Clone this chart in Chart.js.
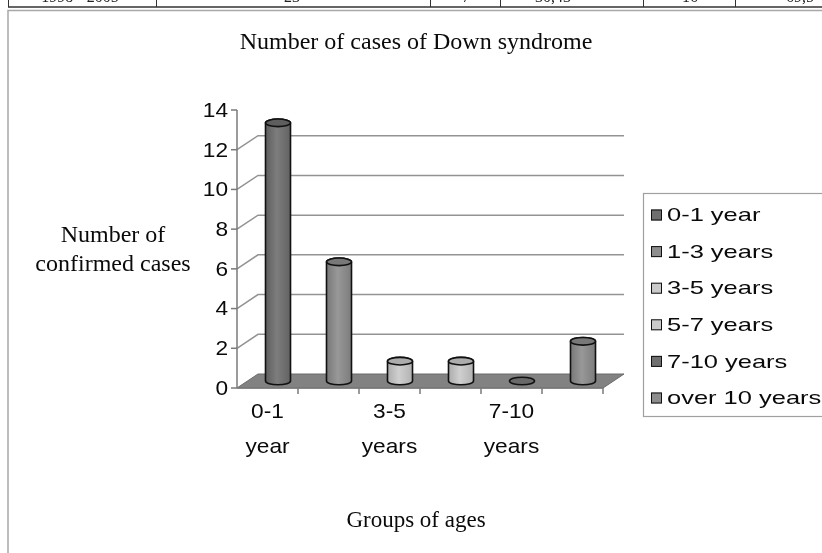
<!DOCTYPE html>
<html>
<head>
<meta charset="utf-8">
<script src="https://cdn.jsdelivr.net/npm/chart.js@4/dist/chart.umd.min.js"></script>
<style>
  html, body { margin: 0; padding: 0; background: #ffffff; }
  #wrap { width: 822px; height: 553px; position: relative; }
</style>
</head>
<body>
<div id="wrap"><canvas id="c" width="822" height="553"></canvas></div>
<script>
// ---- data ----
const categories = ["0-1 year", "1-3 years", "3-5 years", "5-7 years", "7-10 years", "over 10 years"];
const cases = [13, 6, 1, 1, 0, 2];
const yTicks = [0, 2, 4, 6, 8, 10, 12, 14];
const yGridValues = [2, 4, 6, 8, 10, 12];
const xTickLabels = [["0-1", "year"], null, ["3-5", "years"], null, ["7-10", "years"], null];
const chartTitle = "Number of cases of Down syndrome";
const yTitle = ["Number of", "confirmed cases"];
const xTitle = "Groups of ages";
const tableRow = ["1998 - 2005", "23", "7", "30,43", "16", "69,5"];

// ---- styles ----
const barColors = ["#6f6f6f", "#8d8d8d", "#cacaca", "#cacaca", "#6f6f6f", "#8d8d8d"];
const DX = 21, DY = 14;
const SANS = '"Liberation Sans", Arial, sans-serif';
const SERIF = '"Liberation Serif", "Times New Roman", serif';

function shade(hex, f) {
  const n = parseInt(hex.slice(1), 16);
  let r = (n >> 16) & 255, g = (n >> 8) & 255, b = n & 255;
  const t = f < 0 ? 0 : 255, p = Math.abs(f);
  r = Math.round((t - r) * p + r); g = Math.round((t - g) * p + g); b = Math.round((t - b) * p + b);
  return `rgb(${r},${g},${b})`;
}

function text(ctx, s, x, y, font, sx, align, baseline, color) {
  ctx.save();
  ctx.font = font;
  ctx.textBaseline = baseline || 'alphabetic';
  ctx.textAlign = 'left';
  ctx.fillStyle = color || '#111';
  const w = ctx.measureText(s).width * sx;
  let left = x;
  if (align === 'center') left = x - w / 2;
  else if (align === 'right') left = x - w;
  ctx.translate(left, y);
  ctx.scale(sx, 1);
  ctx.fillText(s, 0, 0);
  ctx.restore();
}

function cylinder(ctx, cx, yTop, yBot, w, color) {
  const rx = w / 2, ry = 3.8;
  ctx.save();
  ctx.lineWidth = 1.6;
  ctx.strokeStyle = '#111';
  if (yBot - yTop < 1) {
    ctx.beginPath();
    ctx.ellipse(cx, yBot, rx, ry, 0, 0, Math.PI * 2);
    ctx.fillStyle = shade(color, -0.05);
    ctx.fill(); ctx.stroke();
    ctx.restore();
    return;
  }
  const g = ctx.createLinearGradient(cx - rx, 0, cx + rx, 0);
  g.addColorStop(0, shade(color, -0.15));
  g.addColorStop(0.45, shade(color, 0.1));
  g.addColorStop(1, shade(color, -0.12));
  ctx.beginPath();
  ctx.moveTo(cx - rx, yTop);
  ctx.lineTo(cx - rx, yBot);
  ctx.ellipse(cx, yBot, rx, ry, 0, Math.PI, 0, true);
  ctx.lineTo(cx + rx, yTop);
  ctx.ellipse(cx, yTop, rx, ry, 0, 0, Math.PI, true);
  ctx.closePath();
  ctx.fillStyle = g;
  ctx.fill(); ctx.stroke();
  ctx.beginPath();
  ctx.ellipse(cx, yTop, rx, ry, 0, 0, Math.PI * 2);
  ctx.fillStyle = shade(color, -0.15);
  ctx.fill(); ctx.stroke();
  ctx.restore();
}

const scene3d = {
  id: 'scene3d',
  beforeDraw(chart) {
    const ctx = chart.ctx;
    const xs = chart.scales.x, ys = chart.scales.y;
    const L = chart.chartArea.left, R = chart.chartArea.right;
    ctx.save();
    ctx.fillStyle = '#ffffff';
    ctx.fillRect(0, 0, chart.width, chart.height);

    // table fragment on top (cut off by the page edge)
    const tcx = [80, 292, 466, 553, 690, 800];
    tableRow.forEach((s, i) => text(ctx, s, tcx[i], 2, '16px ' + SERIF, 1, 'center', 'alphabetic', '#222'));
    ctx.strokeStyle = '#333'; ctx.lineWidth = 1;
    [8, 156, 430, 500, 643, 735].forEach(x => { ctx.beginPath(); ctx.moveTo(x + 0.5, 0); ctx.lineTo(x + 0.5, 7); ctx.stroke(); });
    ctx.lineWidth = 1.5;
    ctx.beginPath(); ctx.moveTo(8, 7); ctx.lineTo(822, 7); ctx.stroke();
    // chart frame
    ctx.strokeStyle = '#a8a8a8'; ctx.lineWidth = 1.5;
    ctx.beginPath(); ctx.moveTo(8, 553); ctx.lineTo(8, 10.5); ctx.lineTo(822, 10.5); ctx.stroke();

    // back wall gridlines + side diagonals
    ctx.strokeStyle = '#939393'; ctx.lineWidth = 1.5;
    yGridValues.forEach(v => {
      const y = ys.getPixelForValue(v);
      ctx.beginPath();
      ctx.moveTo(L, y);
      ctx.lineTo(L + DX, y - DY);
      ctx.lineTo(R + DX, y - DY);
      ctx.stroke();
    });

    // floor
    const y0 = ys.getPixelForValue(0);
    ctx.beginPath();
    ctx.moveTo(L, y0); ctx.lineTo(R, y0); ctx.lineTo(R + DX, y0 - DY); ctx.lineTo(L + DX, y0 - DY); ctx.closePath();
    ctx.fillStyle = '#828282'; ctx.fill();
    ctx.strokeStyle = '#6a6a6a'; ctx.lineWidth = 1; ctx.stroke();

    // front value axis
    ctx.strokeStyle = '#7a7a7a'; ctx.lineWidth = 1.5;
    ctx.beginPath(); ctx.moveTo(L, ys.getPixelForValue(yTicks[yTicks.length - 1])); ctx.lineTo(L, y0); ctx.stroke();
    ys.ticks.forEach(t => {
      const y = ys.getPixelForValue(t.value);
      ctx.beginPath(); ctx.moveTo(L - 6, y); ctx.lineTo(L, y); ctx.stroke();
    });
    // category axis front line + ticks
    ctx.beginPath(); ctx.moveTo(L, y0); ctx.lineTo(R, y0); ctx.stroke();
    const band = (R - L) / categories.length;
    for (let i = 1; i <= categories.length; i++) {
      const x = xs.getPixelForValue(i - 1) + band / 2;
      ctx.beginPath(); ctx.moveTo(x, y0); ctx.lineTo(x, y0 + 6); ctx.stroke();
    }
    ctx.restore();
  },
  afterDatasetsDraw(chart) {
    const ctx = chart.ctx;
    const ys = chart.scales.y;
    const meta = chart.getDatasetMeta(0);
    const yb = ys.getPixelForValue(0) - DY / 2;
    meta.data.forEach((bar, i) => {
      const cx = bar.x + DX / 2;
      const yt = ys.getPixelForValue(cases[i]) - DY / 2;
      cylinder(ctx, cx, yt, yb, bar.width, barColors[i]);
    });
  },
  afterDraw(chart) {
    const ctx = chart.ctx;
    const xs = chart.scales.x, ys = chart.scales.y;
    const L = chart.chartArea.left;
    const y0 = ys.getPixelForValue(0);
    // y tick labels
    ys.ticks.forEach(t => {
      text(ctx, String(t.value), L - 9, ys.getPixelForValue(t.value) + 1, '21px ' + SANS, 1.08, 'right', 'middle', '#0a0a0a');
    });
    // x tick labels
    xTickLabels.forEach((lines, i) => {
      if (!lines) return;
      const x = xs.getPixelForValue(i);
      lines.forEach((ln, k) => text(ctx, ln, x, y0 + 30 + k * 35, '21px ' + SANS, 1.08, 'center', 'alphabetic', '#0a0a0a'));
    });
    // titles
    text(ctx, chartTitle, 416, 49, '24px ' + SERIF, 1.0, 'center', 'alphabetic', '#0a0a0a');
    yTitle.forEach((ln, k) => text(ctx, ln, 113, 242 + k * 29, '24px ' + SERIF, 1.0, 'center', 'alphabetic', '#0a0a0a'));
    text(ctx, xTitle, 416, 527, '23px ' + SERIF, 1.0, 'center', 'alphabetic', '#0a0a0a');

    // legend
    ctx.save();
    ctx.strokeStyle = '#a0a0a0'; ctx.lineWidth = 1.2;
    ctx.strokeRect(643.5, 193.5, 200, 223);
    categories.forEach((c, i) => {
      const y = 215 + i * 36.6;
      ctx.fillStyle = barColors[i];
      ctx.fillRect(651, y - 5.5, 11, 11);
      ctx.strokeStyle = '#111'; ctx.lineWidth = 1;
      ctx.strokeRect(651.5, y - 5, 10, 10);
      text(ctx, c, 667, y + 1, '19px ' + SANS, 1.34, 'left', 'middle', '#0a0a0a');
    });
    ctx.restore();
  }
};

new Chart(document.getElementById('c'), {
  type: 'bar',
  data: {
    labels: categories,
    datasets: [{
      label: 'Number of confirmed cases',
      data: cases,
      backgroundColor: 'rgba(0,0,0,0)',
      borderWidth: 0,
      barPercentage: 0.41,
      categoryPercentage: 1.0
    }]
  },
  options: {
    responsive: false,
    animation: false,
    layout: { padding: { left: 237, right: 219, top: 110, bottom: 165 } },
    plugins: { legend: { display: false }, title: { display: false }, tooltip: { enabled: false } },
    scales: {
      x: { display: false, offset: true },
      y: {
        display: false, min: yTicks[0], max: yTicks[yTicks.length - 1],
        afterBuildTicks(scale) { scale.ticks = yTicks.map(v => ({ value: v })); }
      }
    }
  },
  plugins: [scene3d]
});
</script>
</body>
</html>
